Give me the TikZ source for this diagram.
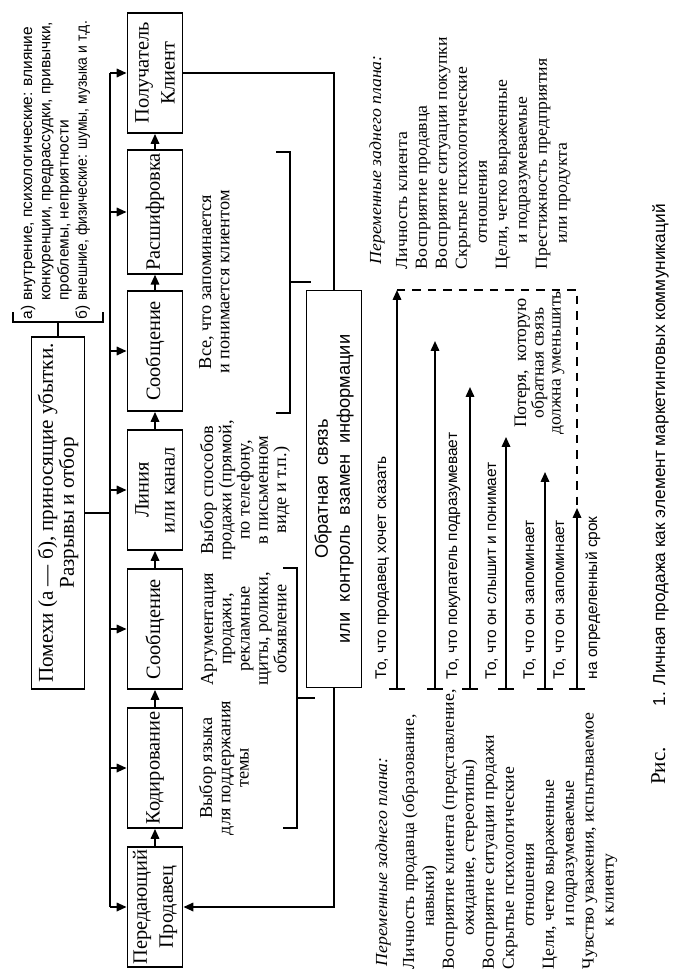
\documentclass[tikz,border=0pt]{standalone}
\usepackage{fontspec}
\setmainfont{Liberation Serif}
\setsansfont{Liberation Sans}
\newfontfamily\narrowsans{Liberation Sans}[FakeStretch=0.9]
\newfontfamily\wideserif{Liberation Serif}[FakeStretch=1.05]
\usetikzlibrary{arrows.meta}

\tikzset{
  blk/.style={draw, minimum width=3cm, minimum height=1.375cm, inner sep=2pt,
    align=center, font=\fontsize{14.5}{18.5}\selectfont},
  expl/.style={anchor=base, inner sep=0pt, font=\fontsize{13}{13}\selectfont},
  vars/.style={anchor=base west, inner sep=0pt, font=\wideserif\fontsize{12}{14.2}\selectfont},
  says/.style={anchor=base west, inner sep=0pt, font=\sffamily\fontsize{11}{12}\selectfont},
  arr/.style={-{Triangle[length=7pt,width=6pt]}},
  loss/.style={{Bar[width=11pt]}-{Triangle[length=7pt,width=6pt]}},
}

\begin{document}
\begin{tikzpicture}[x=0.025cm, y=-0.025cm, line width=1.3pt, every node/.style={rotate=90}]
  \useasboundingbox (0,0) rectangle (683,978);

  \node[blk] (send) at (155,907) {Передающий\\Продавец};
  \node[blk] (enc)  at (155,768) {Кодирование};
  \node[blk] (msga) at (155,629) {Сообщение};
  \node[blk] (chan) at (155,490) {Линия\\или канал};
  \node[blk] (msgb) at (155,351) {Сообщение};
  \node[blk] (dec)  at (155,212) {Расшифровка};
  \node[blk] (recv) at (155,73)  {Получатель\\Клиент};
  \foreach \a/\b in {send/enc, enc/msga, msga/chan, chan/msgb, msgb/dec, dec/recv}
    \draw[arr] (\a) -- (\b);

  \node[blk, minimum width=8.8cm, minimum height=1.325cm, font=\fontsize{15}{15}\selectfont]
    (noise) at (58,513) {Помехи (а — б), приносящие убытки.\\Разрывы и отбор};
  \coordinate (bustop) at (110,73);
  \coordinate (busbot) at (110,907);
  \draw (bustop) -- (busbot);
  \foreach \n in {send, enc, msga, chan, msgb, dec, recv}
    \draw[arr] (\n -| bustop) -- (\n);
  \draw (noise) -- (noise -| bustop);

  \coordinate (brk) at (58,322);
  \draw (13,312) |- (brk) -| (103,312);
  \draw (brk) -- (noise);
  \node[anchor=base west, inner sep=0pt, font=\sffamily\fontsize{11}{13}\selectfont] (kinds) at (32,320)
    {\begin{tabular}[t]{@{}l@{ }l@{}}
      а) & внутрение, психологические: влияние\\
         & конкуренции, предрассудки, привычки,\\
         & проблемы, неприятности\\
      б) & \narrowsans внешние, физические: шумы, музыка и т.д.
    \end{tabular}};

  \node[blk, minimum width=9.925cm, font=\sffamily\fontsize{13}{15.6}\selectfont] (fb) at (334,489)
    {Обратная\ \ связь\\или\ \ контроль\ \ взамен\ \ информации};
  \draw (recv) -| (fb);
  \draw[arr] (fb) |- (send);

  \node[expl] (enctxt) at (212,768)
    {\begin{tabular}[t]{@{}c@{}}Выбор языка\\для поддержания\\темы\end{tabular}};
  \node[expl] (msgatxt) at (213,629)
    {\begin{tabular}[t]{@{}c@{}}Аргументация\\продажи,\\рекламные\\щиты, ролики,\\объявление\end{tabular}};
  \node[expl] (chantxt) at (213,490)
    {\begin{tabular}[t]{@{}c@{}}Выбор способов\\продажи (прямой,\\по телефону,\\в письменном\\виде и т.п.)\end{tabular}};
  \node[expl] (msgbtxt) at (211,282)
    {\begin{tabular}[t]{@{}c@{}}Все, что запоминается\\и понимается клиентом\end{tabular}};
  \draw (283,568) -| (297,828) -- (283,828);
  \draw (297,698) -- (315,698);
  \draw (276,152) -| (290,413) -- (276,413);
  \draw (290,282) -- (311,282);

  \node[vars, font=\wideserif\itshape\fontsize{12}{14}\selectfont] (lhead) at (387,967) {Переменные заднего плана:};
  \node[vars] (lvars) at (414,970)
    {\begin{tabular}[t]{@{}l@{}}
      Личность продавца (образование,\\
      \hspace*{2.5em}навыки)\\
      Восприятие клиента (представление,\\
      \hspace*{2em}ожидание, стереотипы)\\
      Восприятие ситуации продажи\\
      Скрытые психологические\\
      \hspace*{2.5em}отношения\\
      Цели, четко выраженные\\
      \hspace*{2.5em}и подразумеваемые\\
      Чувство уважения, испытываемое\\
      \hspace*{2.5em}к клиенту
    \end{tabular}};

  \node[vars, font=\wideserif\itshape\fontsize{12}{14}\selectfont] (rhead) at (381,265) {Переменные заднего плана:};
  \node[vars] (rvars) at (407,270)
    {\begin{tabular}[t]{@{}l@{}}
      Личность клиента\\
      Восприятие продавца\\
      Восприятие ситуации покупки\\
      Скрытые психологические\\
      \hspace*{1.5em}отношения\\
      Цели, четко выраженные\\
      \hspace*{1.5em}и подразумеваемые\\
      Престижность предприятия\\
      \hspace*{1.5em}или продукта
    \end{tabular}};

  \foreach \i/\x/\t in {1/397/290, 2/435/341, 3/470/387, 4/506/437, 5/545/472, 6/577/508} {
    \coordinate (s\i) at (\x,690);
    \coordinate (t\i) at (\x,\t);
    \draw[loss] (s\i) -- (t\i);
  }
  \draw[line width=1pt, dash pattern=on 6pt off 5pt] (t1) -| (t6);

  \node[says] (say1) at (386,680) {То, что продавец хочет сказать};
  \node[says] (say2) at (457,680) {То, что покупатель подразумевает};
  \node[says] (say3) at (496,680) {То, что он слышит и понимает};
  \node[says] (say4) at (534,680) {То, что он запоминает};
  \node[says] (say5) at (564,680) {То, что он запоминает};
  \node[says] (say6) at (597,680) {на определенный срок};
  \node[expl, font=\fontsize{12.5}{12}\selectfont] (lost) at (526,363)
    {\begin{tabular}[t]{@{}c@{}}Потеря,\ \ которую\\обратная связь\\должна уменьшить\end{tabular}};

  \node[anchor=base, inner sep=0pt, font=\fontsize{15}{15}\selectfont] (fig) at (665,766) {Рис.};
  \node[anchor=base west, inner sep=0pt, font=\sffamily\fontsize{12.3}{15}\selectfont] (cap) at (665,707)
    {1. Личная продажа как элемент маркетинговых коммуникаций};
\end{tikzpicture}
\end{document}
